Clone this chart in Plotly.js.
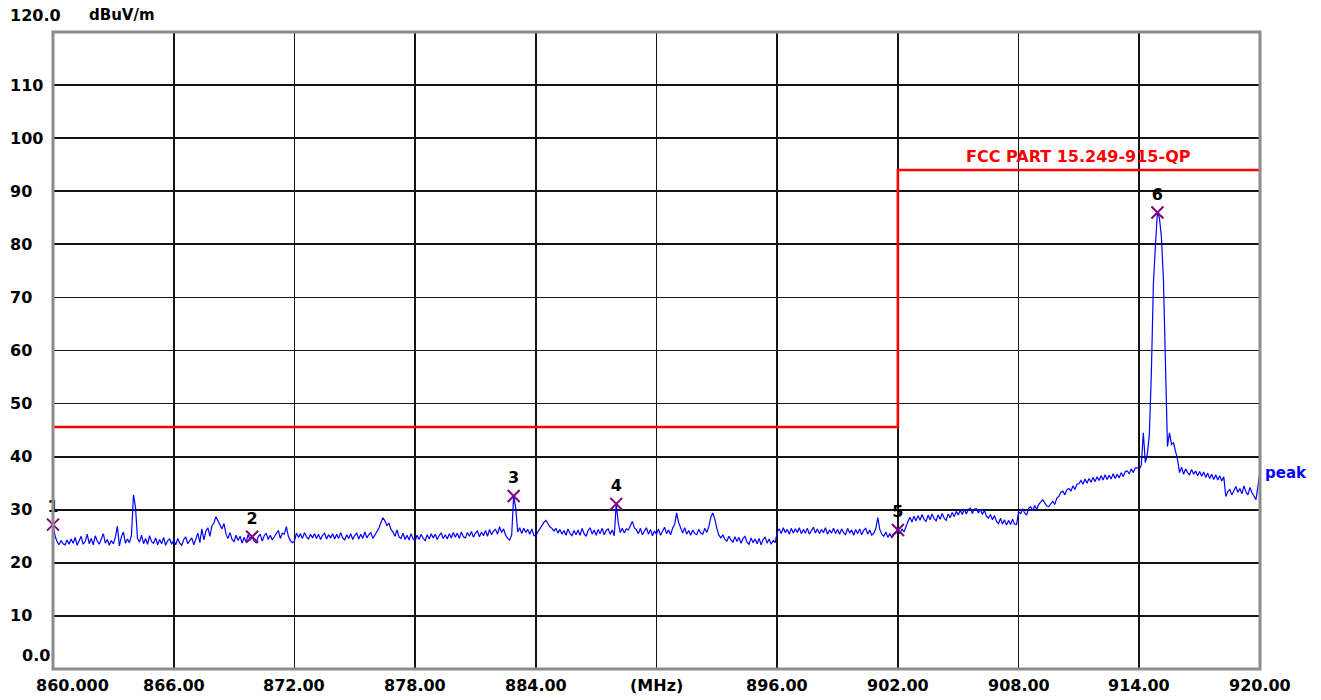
<!DOCTYPE html>
<html>
<head>
<meta charset="utf-8">
<script src="https://cdn.plot.ly/plotly-3.0.1.min.js"></script>
<style>
  html, body { margin: 0; padding: 0; background: #ffffff; }
  #chart { width: 1321px; height: 700px; }
</style>
</head>
<body>
<div id="chart"></div>
<script>
// ---- sweep settings (MHz) ----
const startFreq = 860.0;
const stepFreq = 0.1;

// ---- measured level, dBuV/m, one row per MHz (860.0 ... 920.0) ----
const peakLevel = [
  27.2, 25.1, 24.0, 23.4, 24.2, 23.6, 23.4, 24.3, 23.5, 24.5, // 860
  23.7, 24.8, 23.3, 24.2, 25.0, 23.5, 24.0, 25.4, 23.6, 24.6, // 861
  23.4, 25.1, 24.1, 23.5, 24.7, 25.5, 23.7, 24.4, 23.3, 24.2, // 862
  23.6, 24.8, 26.9, 23.2, 24.9, 25.8, 23.7, 24.5, 23.8, 25.2, // 863
  32.8, 30.5, 24.6, 23.9, 25.2, 23.6, 24.6, 23.5, 25.1, 24.0, // 864
  23.7, 24.7, 23.4, 24.4, 23.6, 24.8, 23.3, 24.2, 24.5, 23.5, // 865
  24.3, 23.4, 24.6, 23.7, 23.3, 24.4, 24.9, 23.6, 24.2, 24.7, // 866
  23.4, 24.5, 25.6, 23.8, 26.4, 24.3, 26.0, 26.6, 25.0, 27.0, // 867
  27.5, 28.7, 28.0, 27.1, 26.4, 27.4, 25.4, 24.6, 25.7, 24.4, // 868
  24.0, 25.2, 24.2, 25.0, 23.7, 24.8, 23.9, 25.3, 24.3, 24.9, // 869
  24.1, 23.8, 24.9, 25.4, 24.1, 25.1, 25.6, 24.4, 25.2, 24.3, // 870
  24.9, 25.5, 26.1, 24.6, 25.6, 25.4, 26.8, 25.0, 24.2, 23.8, // 871
  24.1, 25.6, 24.8, 25.5, 24.6, 25.7, 24.9, 24.5, 25.4, 24.7, // 872
  25.5, 24.6, 25.4, 24.4, 25.2, 25.6, 24.5, 25.3, 24.7, 25.5, // 873
  24.5, 25.4, 24.6, 25.7, 24.7, 24.3, 25.3, 24.6, 25.5, 24.4, // 874
  25.2, 25.6, 24.5, 25.4, 24.6, 25.8, 24.7, 25.3, 25.7, 24.6, // 875
  25.3, 25.8, 26.5, 27.6, 28.5, 27.9, 27.0, 27.5, 26.3, 25.8, // 876
  25.0, 26.2, 24.9, 24.6, 25.6, 24.4, 25.2, 24.3, 25.5, 24.5, // 877
  24.1, 25.2, 24.4, 25.4, 24.6, 24.2, 25.3, 24.5, 25.5, 24.7, // 878
  25.4, 24.4, 25.2, 25.6, 24.6, 25.3, 24.5, 25.5, 24.7, 25.7, // 879
  24.8, 25.6, 24.6, 25.8, 24.9, 24.7, 25.7, 25.0, 25.9, 24.8, // 880
  25.6, 26.0, 24.9, 25.8, 25.1, 26.1, 25.0, 26.3, 25.3, 26.0, // 881
  26.3, 25.4, 26.8, 25.7, 26.4, 25.2, 24.6, 24.3, 25.2, 32.6, // 882
  30.4, 25.8, 26.6, 25.5, 26.5, 25.7, 26.3, 25.4, 26.4, 25.2, // 883
  25.0, 25.8, 26.3, 27.0, 27.6, 28.0, 27.4, 26.8, 26.5, 26.0, // 884
  26.5, 25.6, 26.3, 25.4, 26.1, 25.2, 26.4, 25.5, 25.1, 26.1, // 885
  25.3, 26.2, 25.2, 26.5, 25.5, 25.0, 26.1, 26.6, 25.4, 26.2, // 886
  25.2, 26.3, 25.5, 26.5, 25.3, 26.1, 26.4, 25.4, 26.2, 25.1, // 887
  31.1, 27.5, 25.7, 26.5, 25.6, 26.4, 26.2, 26.9, 27.8, 26.6, // 888
  26.2, 25.5, 26.5, 25.3, 26.1, 26.6, 25.4, 26.3, 25.1, 26.0, // 889
  25.4, 26.4, 25.2, 26.1, 26.7, 25.5, 26.2, 25.3, 26.5, 27.2, // 890
  29.4, 27.6, 26.5, 25.6, 26.6, 25.4, 26.1, 25.2, 26.2, 25.5, // 891
  25.3, 26.3, 25.6, 25.4, 26.5, 25.7, 26.8, 28.6, 29.4, 28.2, // 892
  26.5, 25.2, 24.7, 25.3, 24.4, 24.1, 25.0, 24.3, 23.9, 24.9, // 893
  24.0, 24.8, 23.7, 24.6, 25.0, 23.9, 23.5, 24.7, 23.8, 24.5, // 894
  23.6, 24.6, 23.4, 24.4, 24.9, 23.7, 24.5, 23.5, 24.2, 23.8, // 895
  25.8, 26.4, 25.5, 26.6, 25.7, 26.3, 25.4, 26.5, 25.6, 26.4, // 896
  25.7, 26.6, 25.5, 26.3, 25.6, 26.5, 25.4, 26.2, 26.7, 25.6, // 897
  26.4, 25.5, 26.3, 25.7, 26.6, 25.4, 26.2, 25.6, 26.5, 25.5, // 898
  26.3, 25.4, 26.4, 25.7, 25.3, 26.5, 25.6, 26.2, 25.2, 26.3, // 899
  25.5, 26.4, 25.3, 26.1, 26.5, 25.4, 26.2, 25.2, 25.6, 26.4, // 900
  28.5, 26.3, 25.4, 25.0, 25.8, 24.8, 25.5, 24.7, 25.3, 25.6, // 901
  26.2, 25.5, 26.4, 25.8, 27.0, 27.8, 28.6, 27.7, 28.8, 27.9, // 902
  28.9, 28.0, 29.1, 28.2, 27.8, 29.0, 28.1, 29.2, 28.3, 27.9, // 903
  29.0, 28.2, 29.3, 28.4, 28.0, 29.2, 28.5, 29.5, 28.7, 29.7, // 904
  29.0, 29.9, 29.1, 30.1, 29.2, 30.0, 30.3, 29.3, 30.1, 30.2, // 905
  29.4, 30.1, 29.1, 29.9, 28.8, 28.4, 29.1, 28.1, 28.9, 27.8, // 906
  27.4, 28.4, 27.3, 28.1, 27.1, 28.0, 27.2, 28.2, 27.3, 27.2, // 907
  29.7, 29.2, 30.2, 29.4, 29.0, 30.3, 30.6, 29.8, 30.8, 30.1, // 908
  31.0, 31.4, 31.9, 31.3, 30.7, 30.6, 31.2, 31.6, 31.0, 32.2, // 909
  32.5, 33.3, 33.5, 32.8, 33.8, 34.0, 33.5, 34.5, 33.8, 34.8, // 910
  34.9, 35.5, 34.8, 35.8, 35.0, 35.9, 35.2, 36.1, 35.3, 36.2, // 911
  35.5, 36.4, 35.6, 36.6, 35.7, 36.5, 35.8, 36.8, 35.9, 36.7, // 912
  36.0, 37.0, 36.2, 37.2, 37.3, 36.8, 37.7, 37.0, 37.9, 37.9, // 913
  37.6, 38.4, 44.5, 38.9, 40.5, 44.2, 55.8, 72.5, 79.7, 86.0, // 914
  85.0, 81.3, 73.4, 55.8, 41.9, 44.5, 42.3, 42.6, 40.8, 39.5, // 915
  37.0, 38.0, 36.7, 37.7, 37.0, 36.6, 37.6, 36.7, 37.3, 36.4, // 916
  37.2, 36.3, 37.1, 36.1, 36.9, 35.9, 36.7, 35.7, 36.6, 35.6, // 917
  36.4, 35.4, 36.2, 32.5, 33.4, 33.8, 32.8, 33.6, 34.4, 33.3, // 918
  34.0, 33.0, 34.5, 33.4, 32.8, 34.2, 33.2, 32.6, 31.9, 34.5, // 919
  37.2                                                        // 920
];

// ---- limit line FCC PART 15.249-915-QP ----
const limitFreq  = [860, 902, 902, 920];
const limitLevel = [45.6, 45.6, 94, 94];
const limitName  = "FCC PART 15.249-915-QP";

// ---- markers ----
const markerFreq  = [860.0, 869.9, 882.9, 888.0, 902.0, 914.9];
const markerLevel = [27.2, 24.9, 32.6, 31.1, 26.2, 86.0];
const markerLabel = ["1", "2", "3", "4", "5", "6"];

// ---- axes ----
const xTickVals = [860, 866, 872, 878, 884, 890, 896, 902, 908, 914, 920];
const xTickText = ["860.000", "866.00", "872.00", "878.00", "884.00", "(MHz)", "896.00", "902.00", "908.00", "914.00", "920.00"];
const yTickVals = [0, 10, 20, 30, 40, 50, 60, 70, 80, 90, 100, 110, 120];
const yTickText = ["0.0", "10", "20", "30", "40", "50", "60", "70", "80", "90", "100", "110", "120.0"];
const yUnit = "dBuV/m";
const traceName = "peak";

// build sweep frequencies
const freq = peakLevel.map((_, i) => +(startFreq + i * stepFreq).toFixed(1));

const FONT = "DejaVu Sans, Arial, sans-serif";

const traces = [
  {
    x: limitFreq, y: limitLevel, type: "scatter", mode: "lines",
    line: { color: "#ff0000", width: 2.6 }, hoverinfo: "skip"
  },
  {
    x: freq, y: peakLevel, type: "scatter", mode: "lines",
    line: { color: "#0000ff", width: 1.2 }, hoverinfo: "skip"
  },
  {
    x: markerFreq, y: markerLevel, type: "scatter", mode: "markers+text",
    text: markerLabel, textposition: "top center",
    textfont: { family: FONT, size: 16, color: "#000000", weight: "bold" },
    marker: { symbol: "x-thin", size: 12, color: "#800080", line: { color: "#800080", width: 2 } },
    hoverinfo: "skip", cliponaxis: false
  }
];

const annotations = [];
// x tick labels
xTickVals.forEach((v, i) => {
  annotations.push({
    x: v, xref: "x", y: 0, yref: "paper", yanchor: "top",
    xshift: i === 0 ? 19 : 0, yshift: -5,
    text: "<b>" + xTickText[i] + "</b>", showarrow: false,
    font: { family: FONT, size: 16, color: "#000" }
  });
});
// y tick labels
yTickVals.forEach((v, i) => {
  let xs = -45, ys = 0;
  if (i === 0) { xs = -33; ys = 14; }
  if (i === yTickVals.length - 1) { ys = 17; }
  annotations.push({
    x: 0, xref: "paper", xanchor: "left", xshift: xs,
    y: v, yref: "y", yanchor: "middle", yshift: ys,
    text: "<b>" + yTickText[i] + "</b>", showarrow: false,
    font: { family: FONT, size: 16, color: "#000" }
  });
});
// unit
annotations.push({
  x: 0, xref: "paper", xanchor: "left", xshift: 34,
  y: 120, yref: "y", yanchor: "middle", yshift: 17,
  text: "<b>" + yUnit + "</b>", showarrow: false,
  font: { family: FONT, size: 15, color: "#000" }
});
// limit name
annotations.push({
  x: 911, xref: "x", xanchor: "center",
  y: limitLevel[3], yref: "y", yanchor: "bottom", yshift: 2,
  text: "<b>" + limitName + "</b>", showarrow: false,
  font: { family: FONT, size: 16, color: "#ff0000" }
});
// trace name
annotations.push({
  x: 920, xref: "x", xanchor: "left", xshift: 3,
  y: peakLevel[peakLevel.length - 1], yref: "y", yanchor: "middle", yshift: -1,
  text: "<b>" + traceName + "</b>", showarrow: false,
  font: { family: FONT, size: 15, color: "#0000ff" }
});

const layout = {
  width: 1321, height: 700,
  margin: { l: 53, r: 61, t: 32, b: 31 },
  paper_bgcolor: "#ffffff", plot_bgcolor: "#ffffff",
  showlegend: false,
  xaxis: {
    range: [860, 920], tickmode: "array", tickvals: xTickVals,
    showticklabels: false, ticks: "", showgrid: true,
    gridcolor: "#141414", gridwidth: 1.7, zeroline: false, showline: false
  },
  yaxis: {
    range: [0, 120], tickmode: "array", tickvals: yTickVals,
    showticklabels: false, ticks: "", showgrid: true,
    gridcolor: "#141414", gridwidth: 1.7, zeroline: false, showline: false
  },
  shapes: [
    {
      type: "rect", xref: "paper", yref: "paper", x0: 0, x1: 1, y0: 0, y1: 1,
      line: { color: "#8c8c8c", width: 3 }, layer: "above"
    }
  ],
  annotations: annotations
};

Plotly.newPlot("chart", traces, layout, { staticPlot: true, displayModeBar: false });
</script>
</body>
</html>
